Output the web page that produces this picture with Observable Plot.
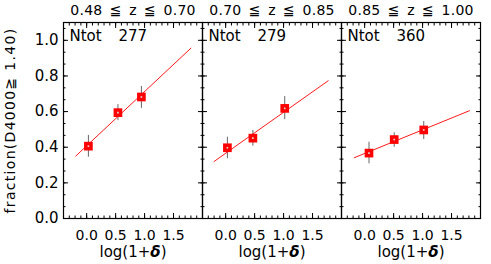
<!DOCTYPE html>
<html><head><meta charset="utf-8">
<script src="https://cdn.jsdelivr.net/npm/d3@7"></script>
<script src="https://cdn.jsdelivr.net/npm/@observablehq/plot@0.6"></script>
<style>
body{margin:0;background:#fff}
svg text{white-space:pre}
</style>
</head><body><div id="chart"></div>
<script>
// panel titles (redshift bins)
const panels = ["0.48\u2002≦\u2002z\u2002≦\u20020.70", "0.70\u2002≦\u2002z\u2002≦\u20020.85", "0.85\u2002≦\u2002z\u2002≦\u20021.00"];
const ntot = [277, 279, 360];
// points: log(1+delta) and fraction with error bars
const logDelta = [[0.03, 0.54, 0.945], [0.03, 0.47, 1.02], [0.075, 0.51, 1.02]];
const fraction = [[0.406, 0.594, 0.682], [0.397, 0.451, 0.618], [0.367, 0.443, 0.497]];
const errLow  = [[0.344, 0.549, 0.618], [0.335, 0.406, 0.555], [0.307, 0.400, 0.443]];
const errHigh = [[0.466, 0.639, 0.741], [0.456, 0.494, 0.684], [0.428, 0.481, 0.544]];
// linear fit line endpoints
const fitX = [[-0.19, 1.80], [-0.20, 1.77], [-0.18, 1.81]];
const fitY = [[0.350, 0.956], [0.320, 0.773], [0.341, 0.605]];
// ticks
const xTicks = [0.0, 0.5, 1.0, 1.5];
const yTicks = [0.0, 0.2, 0.4, 0.6, 0.8, 1.0];
const xMinor = d3.range(-0.4, 2.001, 0.1);
const yMinor = d3.range(0, 1.1, 0.2 / 3);
const xLabelPre = "log(1+", xLabelSym = "δ", xLabelPost = ")";
const yLabel = "fraction(D4000≧ 1.40)";

const points = panels.flatMap((p, i) => logDelta[i].map((x, j) => ({panel: p, x, y: fraction[i][j], lo: errLow[i][j], hi: errHigh[i][j]})));
const fits = panels.flatMap((p, i) => fitX[i].map((x, j) => ({panel: p, x, y: fitY[i][j]})));
const labels = panels.map((p, i) => ({panel: p, n: String(ntot[i]), xl: xLabelPre + xLabelSym + xLabelPost}));

const tickOpts = {fill: "none", label: null, facetAnchor: null, strokeWidth: 1};
const chart = Plot.plot({
  width: 491, height: 264,
  marginLeft: 63, marginRight: 11, marginTop: 22, marginBottom: 46,
  style: {fontFamily: "DejaVu Sans", fontSize: "15px", background: "white", color: "black"},
  fx: {domain: panels, padding: 0, label: null},
  x: {domain: [-0.4, 2.0]},
  y: {domain: [0, 1.1]},
  marks: [
    Plot.axisFx({anchor: "top", tickSize: 0, tickPadding: 8, label: null, fontSize: 14}),
    Plot.axisY({anchor: "left", ticks: yTicks, tickSize: 0, tickPadding: 5, tickFormat: d3.format(".1f"), label: yLabel, labelArrow: "none", labelAnchor: "center", labelOffset: 58}),
    Plot.axisX({anchor: "bottom", ticks: xTicks, tickSize: 0, tickPadding: 12, tickFormat: d3.format(".1f"), label: null, fontSize: 14}),
    Plot.axisX({anchor: "bottom", ticks: xMinor, tickSize: -2.5, ...tickOpts}),
    Plot.axisX({anchor: "top", ticks: xMinor, tickSize: -2.5, ...tickOpts}),
    Plot.axisX({anchor: "bottom", ticks: xTicks, tickSize: -5, ...tickOpts}),
    Plot.axisX({anchor: "top", ticks: xTicks, tickSize: -5, ...tickOpts}),
    Plot.axisY({anchor: "left", ticks: yMinor, tickSize: -2.5, ...tickOpts}),
    Plot.axisY({anchor: "right", ticks: yMinor, tickSize: -2.5, ...tickOpts}),
    Plot.axisY({anchor: "left", ticks: yTicks, tickSize: -5, ...tickOpts}),
    Plot.axisY({anchor: "right", ticks: yTicks, tickSize: -5, ...tickOpts}),
    Plot.frame({stroke: "black", strokeWidth: 1.2}),
    Plot.ruleX(points, {fx: "panel", x: "x", y1: "lo", y2: "hi", stroke: "#666", strokeWidth: 1}),
    Plot.line(fits, {fx: "panel", x: "x", y: "y", stroke: "red", strokeWidth: 0.9}),
    Plot.dot(points, {fx: "panel", x: "x", y: "y", symbol: "square", r: 4.9, fill: "red", stroke: "none"}),
    Plot.dot(points, {fx: "panel", x: "x", y: "y", symbol: "square", r: 0.9, fill: "#ddd", stroke: "none"}),
    Plot.text(labels, {fx: "panel", text: () => "Ntot", frameAnchor: "top-left", dx: 6, dy: 8, textAnchor: "start"}),
    Plot.text(labels, {fx: "panel", text: "n", frameAnchor: "top-left", dx: 55, dy: 8, textAnchor: "start"}),
    Plot.text(labels, {fx: "panel", text: "xl", frameAnchor: "bottom", dy: 38})
  ]
});
document.getElementById("chart").appendChild(chart);
chart.querySelectorAll('g[aria-label="y-axis label"] text').forEach(t => { t.style.letterSpacing = "1.3px"; t.style.fontSize = "14px"; });
chart.querySelectorAll('g[aria-label="fx-axis tick label"] text').forEach(t => { t.style.letterSpacing = "0.3px"; });
// render the delta symbol bold italic, as in the reference
chart.querySelectorAll('text').forEach(t => {
  if (t.textContent === xLabelPre + xLabelSym + xLabelPost && t.children.length === 0) {
    t.textContent = "";
    const ns = "http://www.w3.org/2000/svg";
    const a = document.createElementNS(ns, "tspan"); a.textContent = xLabelPre;
    const b = document.createElementNS(ns, "tspan"); b.textContent = xLabelSym; b.setAttribute("font-style", "italic"); b.setAttribute("font-weight", "bold");
    const c = document.createElementNS(ns, "tspan"); c.textContent = xLabelPost;
    t.append(a, b, c);
  }
});
</script>
</body></html>
